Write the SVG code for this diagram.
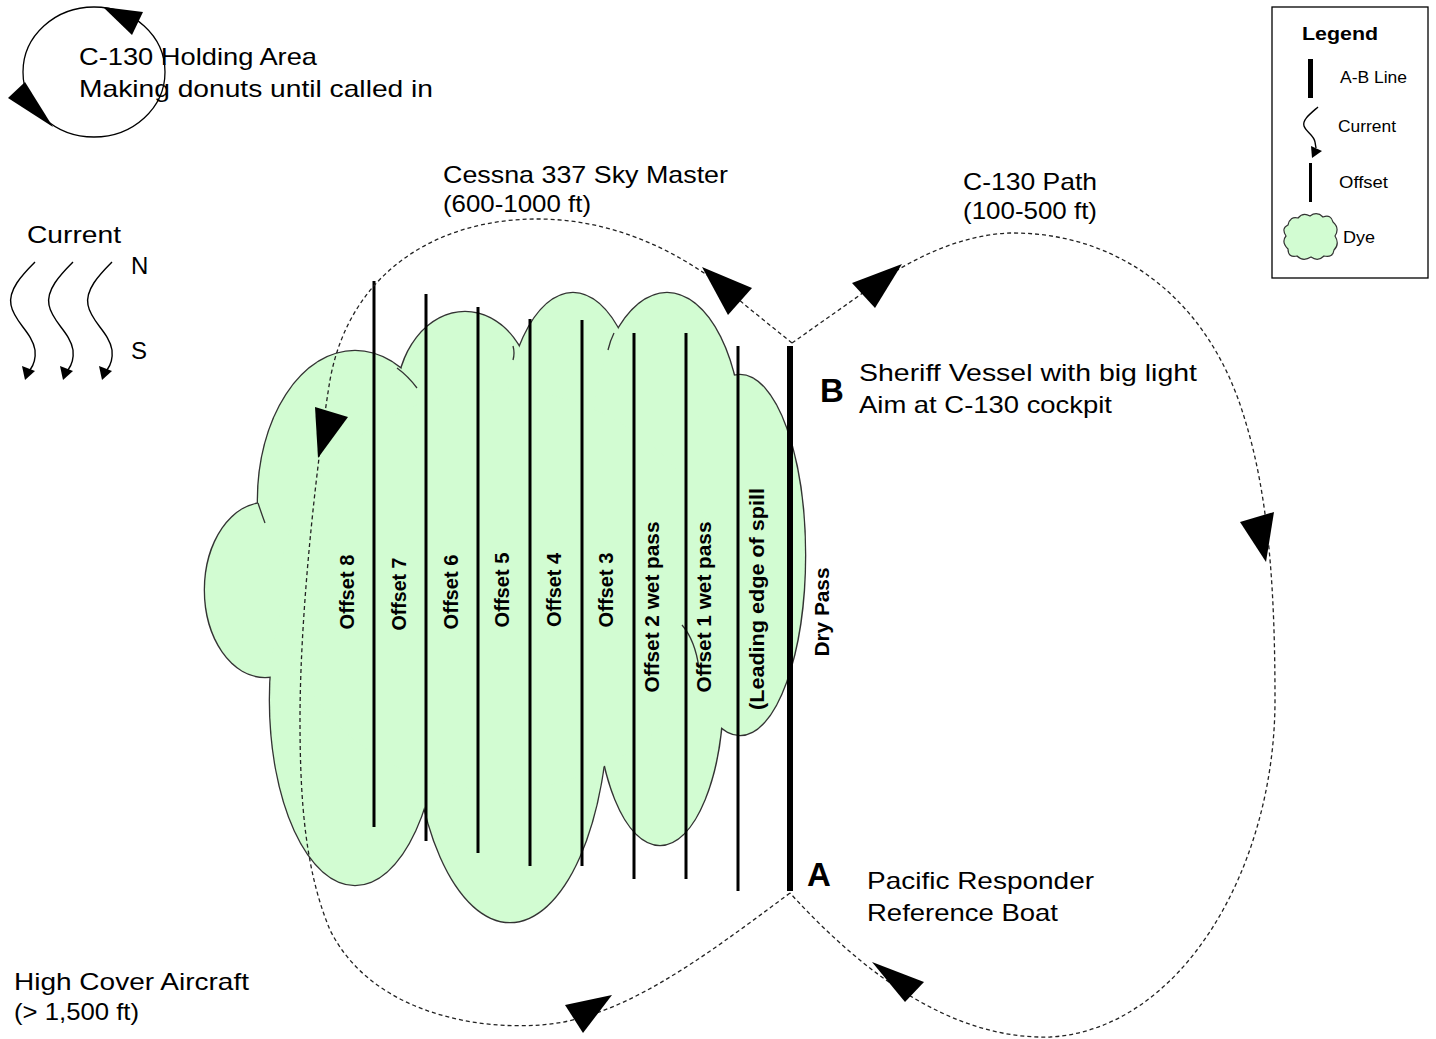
<svg xmlns="http://www.w3.org/2000/svg" width="1436" height="1039" viewBox="0 0 1436 1039">
<style>
.t{font-family:"Liberation Sans",Arial,sans-serif;font-size:24px;fill:#000}
.b{font-weight:bold}
.rl{font-family:"Liberation Sans",Arial,sans-serif;font-size:20px;font-weight:bold;fill:#000;text-anchor:middle}
.lg{font-family:"Liberation Sans",Arial,sans-serif;font-size:16px;fill:#000}
.dash{fill:none;stroke:#222;stroke-width:1.3;stroke-dasharray:4 3}
.ah{fill:#000}
.cs{fill:none;stroke:#333;stroke-width:2.6}
.cf{fill:#d2fcd2;stroke:none}
.off{stroke:#000;stroke-width:3}
.cur{fill:none;stroke:#000;stroke-width:1.4}
.ia{fill:none;stroke:#333;stroke-width:1.3}
</style>
<rect width="1436" height="1039" fill="#fff"/>

<g id="dye-cloud">
  <g class="cs">
    <ellipse cx="265" cy="590" rx="60" ry="87"/>
    <ellipse cx="355" cy="500" rx="97" ry="149"/>
    <ellipse cx="465" cy="400" rx="68" ry="88"/>
    <ellipse cx="573" cy="445" rx="70" ry="152"/>
    <ellipse cx="667" cy="443" rx="75" ry="150"/>
    <ellipse cx="740" cy="555" rx="65" ry="180"/>
    <ellipse cx="355" cy="700" rx="85" ry="185"/>
    <ellipse cx="510" cy="700" rx="98" ry="222"/>
    <ellipse cx="660" cy="690" rx="63" ry="155"/>
  </g>
  <g class="cf">
    <ellipse cx="265" cy="590" rx="60" ry="87"/>
    <ellipse cx="355" cy="500" rx="97" ry="149"/>
    <ellipse cx="465" cy="400" rx="68" ry="88"/>
    <ellipse cx="573" cy="445" rx="70" ry="152"/>
    <ellipse cx="667" cy="443" rx="75" ry="150"/>
    <ellipse cx="740" cy="555" rx="65" ry="180"/>
    <ellipse cx="355" cy="700" rx="85" ry="185"/>
    <ellipse cx="510" cy="700" rx="98" ry="222"/>
    <ellipse cx="660" cy="690" rx="63" ry="155"/>
    <ellipse cx="500" cy="590" rx="220" ry="200"/>
  </g>
  <g class="ia">
    <path d="M397,368 Q408,376 417,388"/>
    <path d="M513,346 Q515,353 513,360"/>
    <path d="M614,333 Q610,341 608,350"/>
    <path d="M258,503 Q262,515 265,523"/>
    <path d="M682,625 Q695,640 699,668"/>
  </g>
</g>

<g id="offset-lines">
  <line class="off" x1="374" y1="281" x2="374" y2="827"/>
  <line class="off" x1="426" y1="294" x2="426" y2="841"/>
  <line class="off" x1="478" y1="307" x2="478" y2="853"/>
  <line class="off" x1="530" y1="319" x2="530" y2="866"/>
  <line class="off" x1="582" y1="320" x2="582" y2="866"/>
  <line class="off" x1="634" y1="333" x2="634" y2="879"/>
  <line class="off" x1="686" y1="333" x2="686" y2="879"/>
  <line class="off" x1="738" y1="346" x2="738" y2="891"/>
</g>
<g id="ab-line">
  <line x1="790" y1="346" x2="790" y2="891" stroke="#000" stroke-width="6"/>
</g>

<g id="offset-labels">
  <text class="rl" transform="translate(354,592) rotate(-90)" textLength="75" lengthAdjust="spacingAndGlyphs">Offset 8</text>
  <text class="rl" transform="translate(406,594) rotate(-90)" textLength="73" lengthAdjust="spacingAndGlyphs">Offset 7</text>
  <text class="rl" transform="translate(458,592) rotate(-90)" textLength="75" lengthAdjust="spacingAndGlyphs">Offset 6</text>
  <text class="rl" transform="translate(509,590) rotate(-90)" textLength="75" lengthAdjust="spacingAndGlyphs">Offset 5</text>
  <text class="rl" transform="translate(561,590) rotate(-90)" textLength="74" lengthAdjust="spacingAndGlyphs">Offset 4</text>
  <text class="rl" transform="translate(613,590) rotate(-90)" textLength="75" lengthAdjust="spacingAndGlyphs">Offset 3</text>
  <text class="rl" transform="translate(659,607) rotate(-90)" textLength="171" lengthAdjust="spacingAndGlyphs">Offset 2 wet pass</text>
  <text class="rl" transform="translate(711,607) rotate(-90)" textLength="171" lengthAdjust="spacingAndGlyphs">Offset 1 wet pass</text>
  <text class="rl" transform="translate(764,599) rotate(-90)" textLength="222" lengthAdjust="spacingAndGlyphs">(Leading edge of spill</text>
  <text class="rl" transform="translate(829,612) rotate(-90)" textLength="89" lengthAdjust="spacingAndGlyphs">Dry Pass</text>
</g>

<g id="connectors">
  <path id="cessna-path" class="dash" d="M792,343 L745,305 C700,265 630,220 540,219 C440,218 350,270 330,380 C320,440 300,600 300,720 C300,800 305,870 330,930 C370,1010 470,1030 540,1025 C620,1020 700,960 790,893"/>
  <path id="c130-path" class="dash" d="M792,343 L860,295 C910,258 960,235 1010,233 C1120,232 1210,300 1245,420 C1270,500 1275,600 1275,700 C1275,870 1180,1030 1050,1037 C950,1040 860,970 790,893"/>
  <polygon class="ah" points="702,267 752,288 728,315"/>
  <polygon class="ah" points="315,407 348,417 318,458"/>
  <polygon class="ah" points="565,1005 612,995 583,1033"/>
  <polygon class="ah" points="852,283 902,264 875,308"/>
  <polygon class="ah" points="1240,522 1274,512 1266,562"/>
  <polygon class="ah" points="872,962 924,982 905,1002"/>
</g>

<g id="holding-area">
  <ellipse cx="94" cy="72" rx="71" ry="65" fill="none" stroke="#000" stroke-width="1.3"/>
  <polygon class="ah" points="103,7 143,12 132,35"/>
  <polygon class="ah" points="25,82 8,98 53,127"/>
  <text class="t" x="79" y="65" textLength="238" lengthAdjust="spacingAndGlyphs">C-130 Holding Area</text>
  <text class="t" x="79" y="97" textLength="354" lengthAdjust="spacingAndGlyphs">Making donuts until called in</text>
</g>

<g id="current">
  <text class="t" x="27" y="243" textLength="94" lengthAdjust="spacingAndGlyphs">Current</text>
  <text class="t" x="131" y="274">N</text>
  <text class="t" x="131" y="359">S</text>
  <g id="squiggle1">
    <path class="cur" d="M35,262 C22,275 8,290 11,305 C14,322 32,332 35,350 C36,360 33,366 30,370"/>
    <polygon class="ah" points="22,366 35,371 25,380"/>
  </g>
  <g transform="translate(38,0)">
    <path class="cur" d="M35,262 C22,275 8,290 11,305 C14,322 32,332 35,350 C36,360 33,366 30,370"/>
    <polygon class="ah" points="22,366 35,371 25,380"/>
  </g>
  <g transform="translate(77,0)">
    <path class="cur" d="M35,262 C22,275 8,290 11,305 C14,322 32,332 35,350 C36,360 33,366 30,370"/>
    <polygon class="ah" points="22,366 35,371 25,380"/>
  </g>
</g>

<g id="cessna-label">
  <text class="t" x="443" y="183" textLength="285" lengthAdjust="spacingAndGlyphs">Cessna 337 Sky Master</text>
  <text class="t" x="443" y="212" textLength="148" lengthAdjust="spacingAndGlyphs">(600-1000 ft)</text>
</g>
<g id="c130-label">
  <text class="t" x="963" y="190" textLength="134" lengthAdjust="spacingAndGlyphs">C-130 Path</text>
  <text class="t" x="963" y="219" textLength="134" lengthAdjust="spacingAndGlyphs">(100-500 ft)</text>
</g>
<g id="point-b">
  <text class="t b" x="820" y="402" style="font-size:33px">B</text>
  <text class="t" x="859" y="381" textLength="338" lengthAdjust="spacingAndGlyphs">Sheriff Vessel with big light</text>
  <text class="t" x="859" y="413" textLength="253" lengthAdjust="spacingAndGlyphs">Aim at C-130 cockpit</text>
</g>
<g id="point-a">
  <text class="t b" x="807" y="886" style="font-size:33px">A</text>
  <text class="t" x="867" y="889" textLength="227" lengthAdjust="spacingAndGlyphs">Pacific Responder</text>
  <text class="t" x="867" y="921" textLength="191" lengthAdjust="spacingAndGlyphs">Reference Boat</text>
</g>
<g id="high-cover">
  <text class="t" x="14" y="990" textLength="235" lengthAdjust="spacingAndGlyphs">High Cover Aircraft</text>
  <text class="t" x="14" y="1020" textLength="125" lengthAdjust="spacingAndGlyphs">(&gt; 1,500 ft)</text>
</g>

<g id="legend">
  <rect x="1272" y="7" width="156" height="271" fill="#fff" stroke="#000" stroke-width="1.3"/>
  <text class="lg b" x="1302" y="40" style="font-size:19px" textLength="76" lengthAdjust="spacingAndGlyphs">Legend</text>
  <rect x="1308" y="59" width="5" height="39" fill="#000"/>
  <text class="lg" x="1340" y="83" textLength="67" lengthAdjust="spacingAndGlyphs">A-B Line</text>
  <path class="cur" d="M1318,107 C1310,114 1302,120 1304,126 C1306,132 1314,135 1315,142 L1316,148"/>
  <polygon class="ah" points="1311,146 1322,151 1312,158"/>
  <text class="lg" x="1338" y="132" textLength="58" lengthAdjust="spacingAndGlyphs">Current</text>
  <rect x="1309" y="163" width="3" height="39" fill="#000"/>
  <text class="lg" x="1339" y="188" textLength="49" lengthAdjust="spacingAndGlyphs">Offset</text>
  <path d="M1288,225 Q1290,216 1298,218 Q1303,212 1310,216 Q1317,211 1323,217 Q1331,214 1333,222 Q1340,228 1335,236 Q1340,244 1334,250 Q1333,258 1324,256 Q1318,262 1311,257 Q1303,262 1297,256 Q1288,258 1288,249 Q1281,242 1286,236 Q1281,228 1288,225 Z" fill="#d2fcd2" stroke="#333" stroke-width="1.2"/>
  <text class="lg" x="1343" y="243" textLength="32" lengthAdjust="spacingAndGlyphs">Dye</text>
</g>
</svg>
